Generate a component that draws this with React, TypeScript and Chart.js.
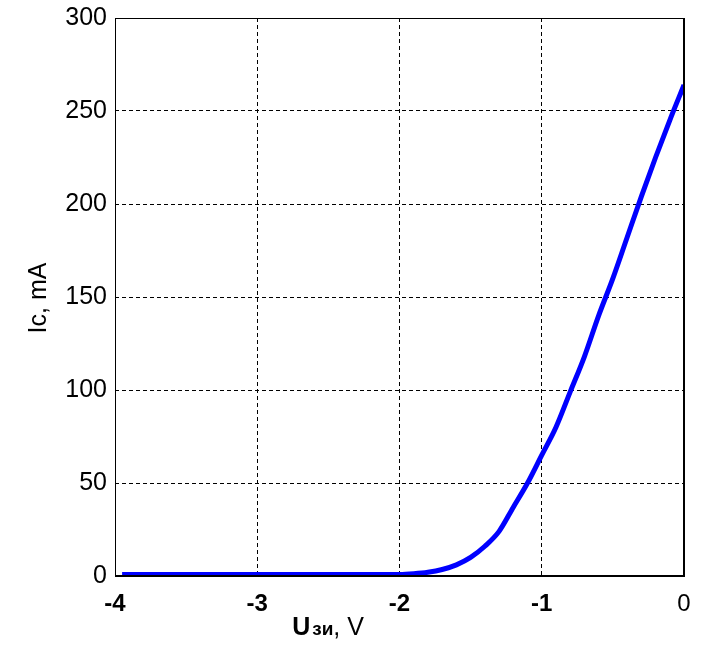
import React, { useEffect, useRef } from "react";
import { Chart, registerables } from "chart.js";

Chart.register(...registerables);

const voltages = [-3.95, -3, -2, -1.9, -1.8, -1.7, -1.6, -1.5, -1.4, -1.3, -1.2, -1.1, -1.0, -0.9, -0.8, -0.7, -0.6, -0.5, -0.4, -0.3, -0.2, -0.1, 0];
const currents = [0.8, 0.8, 0.8, 1.2, 2, 3.5, 6, 10, 16, 24, 37, 50, 65, 80, 99, 118, 140, 160, 182, 204, 225, 245, 264];
const xTicks = [-4, -3, -2, -1, 0];
const yTicks = [0, 50, 100, 150, 200, 250, 300];
const yTitle = "Ic, mA";
const xTitleMain = "U";
const xTitleSub = "зи";
const xTitleRest = ", V";

const FONT = "'Liberation Sans', Arial, sans-serif";

const framePlugin = {
  id: "frame",
  afterDraw(chart: any) {
    const { ctx, chartArea } = chart;
    const { left, right, top, bottom } = chartArea;
    ctx.save();
    ctx.strokeStyle = "#000";
    ctx.setLineDash([]);
    ctx.lineWidth = 1;
    ctx.beginPath();
    ctx.moveTo(left + 0.5, bottom);
    ctx.lineTo(left + 0.5, top + 0.5);
    ctx.lineTo(right, top + 0.5);
    ctx.stroke();
    ctx.lineWidth = 2;
    ctx.beginPath();
    ctx.moveTo(left, bottom);
    ctx.lineTo(right, bottom);
    ctx.lineTo(right, top);
    ctx.stroke();

    // y title
    ctx.fillStyle = "#000";
    ctx.font = `25px ${FONT}`;
    ctx.textAlign = "center";
    ctx.textBaseline = "middle";
    ctx.translate(39, 298);
    ctx.rotate(-Math.PI / 2);
    ctx.fillText(yTitle, 0, 0);
    ctx.setTransform(1, 0, 0, 1, 0, 0);

    // x title
    const f1 = `bold 25px ${FONT}`;
    const f2 = `bold 19px ${FONT}`;
    const f3 = `25px ${FONT}`;
    ctx.font = f1;
    const w1 = ctx.measureText(xTitleMain).width;
    ctx.font = f2;
    const w2 = ctx.measureText(xTitleSub).width;
    ctx.font = f3;
    const w3 = ctx.measureText(xTitleRest).width;
    const total = w1 + 2 + w2 + w3;
    let x = 328 - total / 2;
    const base = 635;
    ctx.textAlign = "left";
    ctx.textBaseline = "alphabetic";
    ctx.font = f1;
    ctx.fillText(xTitleMain, x, base);
    x += w1 + 2;
    ctx.font = f2;
    ctx.fillText(xTitleSub, x, base);
    x += w2;
    ctx.font = f3;
    ctx.fillText(xTitleRest, x, base);
    ctx.restore();
  },
};

export default function App() {
  const ref = useRef<HTMLCanvasElement>(null);
  useEffect(() => {
    if (!ref.current) return;
    const chart = new Chart(ref.current, {
      type: "line",
      data: {
        datasets: [
          {
            data: voltages.map((v, i) => ({ x: v, y: currents[i] })),
            borderColor: "#0000ff",
            backgroundColor: "#0000ff",
            borderWidth: 5,
            pointRadius: 0,
            cubicInterpolationMode: "monotone",
            fill: false,
          },
        ],
      },
      options: {
        animation: false,
        responsive: false,
        layout: { padding: { top: 18, right: 17, left: 0, bottom: 0 } },
        plugins: { legend: { display: false }, tooltip: { enabled: false } },
        scales: {
          x: {
            type: "linear",
            min: -4,
            max: 0,
            afterBuildTicks: (s: any) => {
              s.ticks = xTicks.map((v) => ({ value: v }));
            },
            afterFit: (s: any) => {
              s.height = 74;
              s.paddingLeft = 0;
              s.paddingRight = 0;
            },
            grid: { color: "#000", lineWidth: 1, drawTicks: false },
            border: { display: false, dash: [4, 3] },
            ticks: {
              color: "#000",
              padding: 14,
              maxRotation: 0,
              font: (c: any) => ({
                family: FONT,
                size: 24,
                weight: c.tick && c.tick.value === 0 ? "normal" : "bold",
              }),
            },
          },
          y: {
            type: "linear",
            min: 0,
            max: 300,
            afterBuildTicks: (s: any) => {
              s.ticks = yTicks.map((v) => ({ value: v }));
            },
            afterFit: (s: any) => {
              s.width = 115;
              s.paddingTop = 0;
              s.paddingBottom = 0;
            },
            grid: { color: "#000", lineWidth: 1, drawTicks: false },
            border: { display: false, dash: [4, 3] },
            ticks: {
              color: "#000",
              padding: 8,
              font: { family: FONT, size: 25 },
            },
          },
        },
      },
      plugins: [framePlugin],
    } as any);
    return () => chart.destroy();
  }, []);
  return (
    <div style={{ position: "fixed", left: 0, top: 0, width: 701, height: 650, background: "#fff" }}>
      <canvas ref={ref} width={701} height={650} style={{ width: 701, height: 650 }} />
    </div>
  );
}
